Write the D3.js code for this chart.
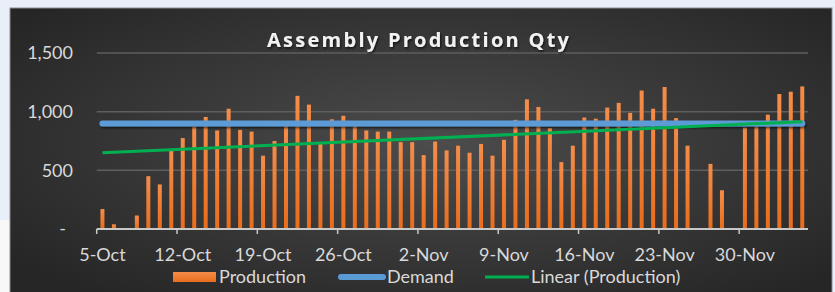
<!DOCTYPE html>
<meta charset="utf-8">
<title>Assembly Production Qty</title>
<style>
  body { margin: 0; background: #e8eff8; }
  svg { display: block; }
  .lbl { font-family: Lato, "Open Sans", sans-serif; font-size: 18px; fill: #d9d9d9; }
</style>
<body>
<script src="https://d3js.org/d3.v7.min.js"></script>
<script>
var width = 835, height = 292;

// daily production, 5-Oct .. 5-Dec (null = no production that day)
var production = [
  170, 40, null, 115, 450, 380, 665, 775, 875, 955,
  840, 1025, 845, 830, 625, 750, 880, 1135, 1060, 725,
  935, 965, 880, 840, 830, 830, 740, 740, 630, 745,
  670, 710, 650, 725, 625, 760, 930, 1105, 1040, 860,
  570, 710, 950, 940, 1035, 1075, 990, 1180, 1025, 1210,
  945, 710, null, 555, 330, null, 865, 875, 975, 1150,
  1170, 1215
];
var demand = 900;
// linear trendline (Production) as shown: value at first and last day
var trend = [650, 915];
var startDate = new Date(2020, 9, 5);
var dates = production.map(function(d, i) { return d3.timeDay.offset(startDate, i); });
var yTicks = [0, 500, 1000, 1500];
var legendItems = ["Production", "Demand", "Linear (Production)"];

var fmtDate = d3.timeFormat("%-d-%b");
var fmtNum = function(v) { return v === 0 ? "-" : d3.format(",")(v); };

var svg = d3.select("body").append("svg")
  .attr("width", width)
  .attr("height", height);

var defs = svg.append("defs");
var bg = defs.append("radialGradient").attr("id", "bg")
  .attr("cx", "52%").attr("cy", "45%").attr("r", "65%");
bg.append("stop").attr("offset", "0%").attr("stop-color", "#4c4c4c");
bg.append("stop").attr("offset", "100%").attr("stop-color", "#262626");

var barGrad = defs.append("linearGradient").attr("id", "bar")
  .attr("x1", 0).attr("x2", 0).attr("y1", 0).attr("y2", 1);
barGrad.append("stop").attr("offset", "0%").attr("stop-color", "#f48d4a");
barGrad.append("stop").attr("offset", "100%").attr("stop-color", "#e96d1c");

var shadow = defs.append("filter").attr("id", "shadow")
  .attr("filterUnits", "userSpaceOnUse")
  .attr("x", 0).attr("y", 0).attr("width", width).attr("height", height);
shadow.append("feDropShadow").attr("dx", 1).attr("dy", 1.5)
  .attr("stdDeviation", 1.2).attr("flood-color", "#000").attr("flood-opacity", 0.7);

// page + chart box
svg.append("rect").attr("x", 0).attr("y", 220).attr("width", 12).attr("height", 72).attr("fill", "#f8f8f8");
svg.append("rect").attr("x", 10).attr("y", 8).attr("width", 822).attr("height", 300)
  .attr("fill", "url(#bg)").attr("stroke", "#8c8c8c").attr("stroke-width", 1);

// scales
var x = d3.scaleBand().domain(dates).range([96.7, 808]).padding(0);
var y = d3.scaleLinear().domain([0, 1500]).range([229, 53]);
var xc = function(d) { return x(d) + x.bandwidth() / 2; };

// gridlines
svg.append("g").selectAll("line")
  .data(yTicks.filter(function(v) { return v > 0; }))
  .enter().append("line")
  .attr("x1", 96.7).attr("x2", 808)
  .attr("y1", function(d) { return y(d); }).attr("y2", function(d) { return y(d); })
  .attr("stroke", "#5e5e5e").attr("stroke-width", 1.5);

// y labels
svg.append("g").selectAll("text")
  .data(yTicks)
  .enter().append("text")
  .attr("class", "lbl")
  .attr("x", function(d) { return d === 0 ? 66 : 73; })
  .attr("y", function(d) { return y(d); })
  .attr("dy", "0.35em")
  .attr("text-anchor", "end")
  .text(fmtNum);

// bars
var bars = production.map(function(v, i) { return { date: dates[i], value: v }; })
  .filter(function(d) { return d.value !== null; });
svg.append("g").selectAll("rect")
  .data(bars)
  .enter().append("rect")
  .attr("x", function(d) { return xc(d.date) - 2; })
  .attr("width", 4)
  .attr("y", function(d) { return y(d.value); })
  .attr("height", function(d) { return y(0) - y(d.value); })
  .attr("fill", "url(#bar)");

// x axis baseline and week ticks
svg.append("line").attr("x1", 96.7).attr("x2", 808).attr("y1", 229).attr("y2", 229)
  .attr("stroke", "#c8c8c8").attr("stroke-width", 2);
var weekly = dates.filter(function(d, i) { return i % 7 === 0; });
svg.append("g").selectAll("line")
  .data(weekly)
  .enter().append("line")
  .attr("x1", function(d) { return x(d); }).attr("x2", function(d) { return x(d); })
  .attr("y1", 229).attr("y2", 234)
  .attr("stroke", "#c8c8c8").attr("stroke-width", 1.5);
svg.append("g").selectAll("text")
  .data(weekly)
  .enter().append("text")
  .attr("class", "lbl")
  .attr("x", xc)
  .attr("y", 261)
  .attr("text-anchor", "middle")
  .text(fmtDate);

// demand line
svg.append("line")
  .attr("x1", xc(dates[0])).attr("x2", xc(dates[dates.length - 1]))
  .attr("y1", y(demand)).attr("y2", y(demand))
  .attr("stroke", "#5b9bd5").attr("stroke-width", 6).attr("stroke-linecap", "round")
  .attr("filter", "url(#shadow)");

// linear trend of production
var n = production.length - 1;
svg.append("line")
  .attr("x1", xc(dates[0])).attr("x2", xc(dates[n]))
  .attr("y1", y(trend[0])).attr("y2", y(trend[1]))
  .attr("stroke", "#00b050").attr("stroke-width", 3);

// title
svg.append("text")
  .attr("x", 418).attr("y", 47)
  .attr("text-anchor", "middle")
  .attr("textLength", 302).attr("lengthAdjust", "spacing")
  .style("font-family", "'Open Sans', sans-serif")
  .style("font-weight", "bold").style("font-size", "20px")
  .style("fill", "#f2f2f2")
  .attr("filter", "url(#shadow)")
  .text("Assembly Production Qty");

// legend
var lg = svg.append("g");
lg.append("rect").attr("x", 173).attr("y", 272).attr("width", 43).attr("height", 10).attr("fill", "url(#bar)");
lg.append("text").attr("class", "lbl").attr("x", 219).attr("y", 283).text(legendItems[0]);
lg.append("line").attr("x1", 341).attr("x2", 383).attr("y1", 277).attr("y2", 277)
  .attr("stroke", "#5b9bd5").attr("stroke-width", 6).attr("stroke-linecap", "round");
lg.append("text").attr("class", "lbl").attr("x", 387).attr("y", 283).text(legendItems[1]);
lg.append("line").attr("x1", 485).attr("x2", 529).attr("y1", 277).attr("y2", 277)
  .attr("stroke", "#00b050").attr("stroke-width", 3);
lg.append("text").attr("class", "lbl").attr("x", 531).attr("y", 283).text(legendItems[2]);
</script>
</body>
</html>
